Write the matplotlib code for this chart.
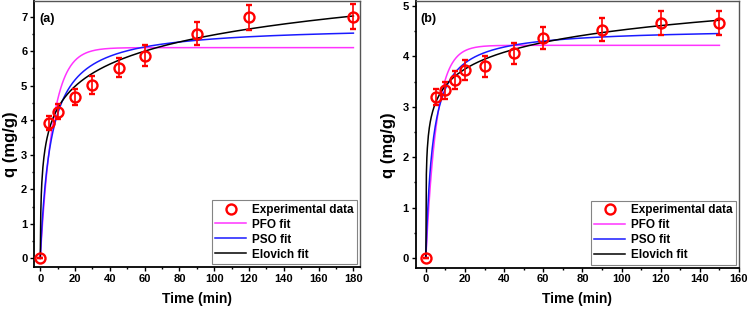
import numpy as np
import matplotlib
matplotlib.use("Agg")
import matplotlib.pyplot as plt
from matplotlib.ticker import MultipleLocator
from matplotlib.lines import Line2D

plt.rcParams['font.family'] = ['Liberation Sans', 'DejaVu Sans']
plt.rcParams['font.weight'] = 'bold'

# ---- Panel (a) data ----
t_a = [0, 5, 10, 20, 30, 45, 60, 90, 120, 180]
q_a = [0, 3.92, 4.25, 4.67, 5.02, 5.52, 5.87, 6.50, 6.98, 7.00]
err_a = [0, 0.20, 0.21, 0.23, 0.25, 0.28, 0.30, 0.33, 0.36, 0.36]
# fit parameters
pfo_a = (6.10, 0.14)      # qe, k1
pso_a = (6.74, 0.0244)    # qe, k2
elo_a = (10.7, 1.078)     # a*b product, b  -> q = ln(1+ab t)/b

# ---- Panel (b) data ----
t_b = [0, 5, 10, 15, 20, 30, 45, 60, 90, 120, 150]
q_b = [0, 3.20, 3.33, 3.53, 3.73, 3.80, 4.06, 4.37, 4.53, 4.66, 4.66]
err_b = [0, 0.16, 0.17, 0.18, 0.19, 0.20, 0.21, 0.22, 0.23, 0.24, 0.24]
pfo_b = (4.22, 0.184)
pso_b = (4.56, 0.0614)
elo_b = (122.0, 2.08)

x_ticks_a = [0, 20, 40, 60, 80, 100, 120, 140, 160, 180]
x_ticks_b = [0, 20, 40, 60, 80, 100, 120, 140, 160]

fig = plt.figure(figsize=(7.49, 3.12), dpi=100)
ax1 = fig.add_axes([34 / 749, 45 / 312, 326 / 749, 266 / 312])
ax2 = fig.add_axes([415.5 / 749, 44.5 / 312, 323.5 / 749, 266.5 / 312])

PINK = '#ff33ff'
BLUE = '#1a1aff'

def draw(ax, t, q, err, pfo, pso, elo, tmax, label, xlim, ylim, xticks, ymaj, ylab_x):
    tt = np.linspace(0, tmax, 600)
    qe1, k1 = pfo
    y_pfo = qe1 * (1 - np.exp(-k1 * tt))
    qe2, k2 = pso
    y_pso = qe2 ** 2 * k2 * tt / (1 + qe2 * k2 * tt)
    ab, b = elo
    y_elo = np.log(1 + ab * tt) / b
    ax.errorbar(t, q, yerr=err, fmt='o', ms=7.2, mfc='none', mec='red', mew=1.7,
                ecolor='red', elinewidth=1.2, capsize=2.5, capthick=1.2, zorder=5)
    ax.plot(tt, y_pfo, color=PINK, lw=1.1, zorder=3)
    ax.plot(tt, y_pso, color=BLUE, lw=1.1, zorder=3)
    ax.plot(tt, y_elo, color='black', lw=1.1, zorder=4)
    ax.set_xlim(*xlim)
    ax.set_ylim(*ylim)
    ax.set_xticks(xticks)
    ax.xaxis.set_minor_locator(MultipleLocator(10))
    ax.yaxis.set_major_locator(MultipleLocator(ymaj))
    ax.yaxis.set_minor_locator(MultipleLocator(ymaj / 2))
    ax.tick_params(which='both', direction='out', top=False, right=False,
                   labelsize=8, width=1.0, pad=2)
    ax.tick_params(which='major', length=2.8)
    ax.tick_params(which='minor', length=1.6)
    for s in ['left', 'bottom']:
        ax.spines[s].set_linewidth(1.3)
    for s in ['top', 'right']:
        ax.spines[s].set_linewidth(1.0)
        ax.spines[s].set_color('#555555')
    for lab in ax.get_xticklabels() + ax.get_yticklabels():
        lab.set_fontweight('bold')
    ax.set_xlabel('Time (min)', fontsize=10, fontweight='bold', labelpad=6)
    ax.set_ylabel('q (mg/g)', fontsize=12, fontweight='bold')
    ax.yaxis.set_label_coords(ylab_x, 0.46)
    ax.text(0.015, 0.955, label, transform=ax.transAxes, ha='left', va='top',
            fontsize=9, fontweight='bold')
    handles = [
        Line2D([], [], ls='none', marker='o', ms=7.2, mfc='none', mec='red', mew=1.7),
        Line2D([], [], color=PINK, lw=1.1),
        Line2D([], [], color=BLUE, lw=1.1),
        Line2D([], [], color='black', lw=1.1),
    ]
    labels = ['Experimental data', 'PFO fit', 'PSO fit', 'Elovich fit']
    leg = ax.legend(handles, labels, loc='lower right',
                    fontsize=8.5, frameon=True, fancybox=False, edgecolor='#666666',
                    borderaxespad=0.25, handlelength=2.6, handletextpad=0.5,
                    labelspacing=0.25, borderpad=0.3)
    leg.get_frame().set_linewidth(0.8)
    for txt in leg.get_texts():
        txt.set_fontweight('bold')

draw(ax1, t_a, q_a, err_a, pfo_a, pso_a, elo_a, 180, '(a)', (-3.6, 183.8), (-0.25, 7.45),
     x_ticks_a, 1, -0.05)
draw(ax2, t_b, q_b, err_b, pfo_b, pso_b, elo_b, 150, '(b)', (-5.3, 160), (-0.19, 5.1),
     x_ticks_b, 1, -0.06)

fig.savefig('out.png', dpi=100)
